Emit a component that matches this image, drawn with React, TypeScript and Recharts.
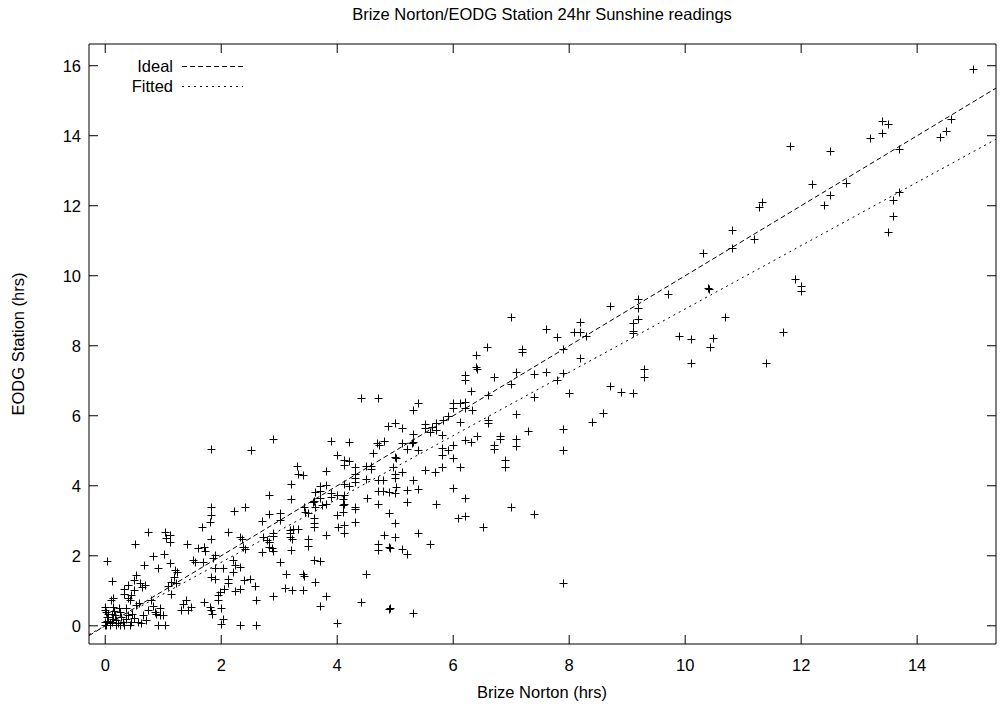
import React from 'react';
import { ComposedChart, Scatter, Line, XAxis, YAxis } from 'recharts';

// [Brize Norton hrs, EODG Station hrs]
const highReadings: [number, number][] = [
  [14.97, 15.91], [13.39, 14.42], [13.49, 14.33], [13.39, 14.08], [13.19, 13.93], [14.58, 14.47],
  [14.49, 14.13], [14.39, 13.96], [13.68, 13.62], [11.8, 13.72], [12.49, 13.56], [12.19, 12.63],
  [12.78, 12.66], [12.49, 12.32], [12.39, 12.01], [11.32, 12.12], [11.28, 11.95], [13.68, 12.38],
  [13.59, 12.15], [13.59, 11.71], [13.49, 11.25], [10.8, 11.31], [11.18, 11.04], [10.8, 10.78],
  [10.31, 10.66], [11.9, 9.9], [11.99, 9.71], [11.99, 9.56], [10.39, 9.66], [10.41, 9.61],
  [10.69, 8.83], [10.48, 8.23], [10.43, 7.96], [11.69, 8.4], [11.39, 7.51], [9.7, 9.47],
  [8.7, 9.14], [9.19, 9.34], [9.19, 9.07], [9.19, 8.77], [9.1, 8.64], [9.1, 8.42], [9.1, 8.36],
  [8.19, 8.67], [8.08, 8.38], [8.19, 8.38], [8.29, 8.28], [7.79, 8.26], [7.89, 7.91], [8.19, 7.64],
  [7.89, 7.22], [7.79, 7.03], [8.0, 6.66], [9.89, 8.29], [10.1, 8.19], [10.1, 7.51], [9.29, 7.35],
  [9.29, 7.12], [8.7, 6.86], [8.89, 6.67], [9.1, 6.65], [8.59, 6.07], [8.39, 5.81], [7.89, 5.61],
  [7.9, 5.03], [7.9, 1.21],
];

const midReadings: [number, number][] = [
  [6.41, 7.35], [6.21, 7.17], [6.21, 7.01], [6.71, 7.1], [7.09, 7.26], [7.4, 7.2], [7.6, 7.25],
  [7.0, 6.91], [6.31, 6.71], [6.6, 6.6], [7.4, 6.55], [5.31, 6.17], [5.4, 6.36], [6.0, 6.36],
  [6.0, 6.22], [6.11, 6.36], [6.21, 6.4], [6.21, 6.22], [6.32, 6.17], [5.91, 5.99], [7.08, 6.05],
  [6.6, 5.88], [6.6, 5.79], [6.11, 5.81], [4.99, 5.79], [5.12, 5.64], [5.52, 5.76], [5.52, 5.64],
  [5.63, 5.69], [5.71, 5.79], [5.71, 5.59], [5.83, 5.88], [5.8, 5.45], [5.6, 5.54], [5.31, 5.48],
  [5.31, 5.26], [5.29, 5.21], [5.12, 5.21], [5.21, 5.04], [5.4, 5.02], [4.99, 4.83], [4.96, 4.54],
  [4.99, 4.35], [4.99, 4.21], [5.12, 4.4], [5.52, 4.45], [5.69, 4.4], [5.8, 4.54], [5.8, 5.07],
  [5.8, 4.88], [5.91, 5.02], [6.0, 5.16], [6.0, 4.78], [6.11, 4.54], [6.21, 5.31], [6.31, 5.26],
  [6.41, 5.42], [6.71, 5.16], [6.71, 5.04], [6.81, 5.42], [6.81, 5.33], [6.89, 4.73], [6.89, 4.54],
  [7.09, 5.35], [7.09, 5.13], [7.29, 5.56], [5.31, 4.16], [5.02, 3.97], [4.99, 3.78], [5.2, 3.87],
  [5.2, 3.54], [5.4, 3.92], [6.0, 3.95], [6.21, 3.66], [5.7, 3.49], [7.0, 3.39], [7.4, 3.19],
  [6.08, 3.07], [6.21, 3.14], [6.51, 2.83], [4.99, 2.93], [5.4, 2.64], [4.99, 2.53], [5.6, 2.33],
  [4.91, 2.21], [5.12, 2.19], [5.21, 2.05], [4.91, 0.5], [5.3, 0.36], [7.0, 8.83], [7.6, 8.47],
  [6.59, 7.97], [6.4, 7.73], [7.19, 7.92], [7.19, 7.83], [6.4, 7.38],
];

const lowReadings: [number, number][] = [
  [4.41, 6.5], [4.7, 6.5], [2.9, 5.33], [2.51, 5.02], [3.9, 5.29], [4.2, 5.26], [4.69, 5.21],
  [4.72, 5.16], [4.8, 5.28], [4.88, 5.71], [4.61, 4.94], [4.0, 4.88], [4.12, 4.73], [4.12, 4.59],
  [4.21, 4.71], [4.31, 4.54], [4.31, 4.35], [4.5, 4.56], [4.59, 4.56], [4.59, 4.49], [5.02, 4.78],
  [3.3, 4.56], [3.33, 4.35], [3.41, 4.3], [3.8, 4.43], [3.21, 4.04], [4.31, 4.21], [4.31, 4.11],
  [4.5, 4.18], [3.7, 3.99], [3.8, 4.02], [3.71, 3.85], [3.62, 3.83], [4.11, 4.04], [4.21, 4.0],
  [4.71, 4.16], [4.79, 4.16], [4.7, 3.85], [4.79, 3.85], [4.9, 3.82], [4.51, 3.66], [2.82, 3.75],
  [3.21, 3.61], [3.9, 3.78], [3.99, 3.73], [3.9, 3.68], [4.11, 3.73], [4.1, 3.63], [3.6, 3.57],
  [3.7, 3.66], [4.11, 3.49], [4.31, 3.39], [4.7, 3.47], [2.41, 3.39], [3.8, 3.47], [3.42, 3.38],
  [3.44, 3.26], [3.5, 3.22], [3.59, 3.54], [3.62, 3.38], [3.73, 3.44], [4.1, 3.44], [4.1, 3.26],
  [4.31, 3.35], [4.0, 3.17], [2.82, 3.19], [3.02, 3.21], [3.01, 3.02], [2.71, 3.0], [3.6, 3.07],
  [3.6, 2.93], [3.6, 2.83], [4.31, 2.97], [4.01, 2.83], [4.11, 2.88], [4.11, 2.64], [3.8, 2.59],
  [3.19, 2.74], [3.19, 2.64], [3.19, 2.54], [3.22, 2.47], [3.24, 2.76], [3.33, 2.76], [2.9, 2.66],
  [2.9, 2.56], [2.72, 2.54], [2.79, 2.45], [2.82, 2.4], [2.82, 2.26], [2.88, 2.21], [2.71, 2.11],
  [2.9, 2.14], [3.2, 2.16], [3.5, 2.47], [3.5, 2.29], [2.35, 2.47], [2.38, 2.26], [2.41, 2.18],
  [4.71, 2.35], [4.71, 2.16], [4.9, 2.24], [4.8, 2.59], [4.9, 3.23], [3.01, 1.83], [3.6, 1.88],
  [3.7, 1.86], [3.12, 1.47], [3.41, 1.47], [3.42, 1.42], [4.5, 1.47], [3.62, 1.25], [2.39, 1.32],
  [2.49, 1.35], [2.58, 1.13], [3.1, 1.09], [3.22, 1.01], [3.41, 1.03], [2.32, 1.06], [3.8, 0.84],
  [3.7, 0.57], [2.9, 0.84], [2.6, 0.74], [4.41, 0.69], [4.9, 0.48], [4.0, 0.09], [2.6, 0.02],
  [2.32, 0.02],
];

const nearOriginReadings: [number, number][] = [
  [1.82, 5.04], [1.82, 3.39], [1.82, 3.17], [1.81, 2.96], [2.22, 3.29], [1.66, 2.81], [2.11, 2.67],
  [2.32, 2.54], [0.73, 2.69], [1.03, 2.69], [1.04, 2.5], [1.11, 2.59], [1.11, 2.4], [0.51, 2.33],
  [1.41, 2.33], [1.6, 2.21], [1.71, 2.24], [1.82, 2.47], [1.72, 2.14], [1.89, 2.02], [1.86, 1.95],
  [1.82, 1.38], [1.01, 2.05], [0.83, 1.99], [0.66, 1.73], [0.91, 1.64], [1.11, 1.78], [1.21, 1.59],
  [1.24, 1.54], [1.19, 1.4], [1.13, 1.25], [1.22, 1.21], [1.08, 1.13], [1.13, 0.92], [0.03, 1.84],
  [0.12, 1.28], [1.51, 1.88], [1.54, 1.83], [1.69, 1.83], [2.2, 1.88], [2.23, 1.73], [2.32, 1.68],
  [2.2, 1.54], [2.12, 1.35], [2.11, 1.21], [2.23, 1.0], [2.05, 1.06], [2.03, 1.64], [1.89, 1.64],
  [1.89, 1.35], [1.98, 0.97], [1.95, 0.87], [1.71, 0.68], [1.81, 0.54], [1.82, 0.44], [1.84, 0.35],
  [1.95, 0.73], [2.0, 0.52], [2.03, 0.2], [2.0, 0.06], [0.91, 0.02], [1.03, 0.02], [1.4, 0.73],
  [1.34, 0.63], [1.48, 0.54], [1.31, 0.44], [1.42, 0.44], [0.79, 0.73], [0.83, 0.56], [0.94, 0.52],
  [0.74, 0.44], [0.86, 0.39], [0.88, 0.35], [0.94, 0.3], [1.0, 0.3], [0.63, 1.11], [0.68, 1.16],
  [0.5, 1.01], [0.45, 0.87], [0.42, 0.73], [0.39, 0.78], [0.33, 0.92], [0.13, 0.78], [0.1, 0.73],
  [0.5, 1.3], [0.53, 1.44], [0.6, 1.21], [0.39, 1.16], [0.32, 1.06], [-0.01, 0.55], [0.02, 0.4],
  [0.05, 0.26], [-0.01, 0.12], [0.08, 0.07], [0.14, 0.55], [0.17, 0.31], [0.19, 0.17], [0.22, 0.07],
  [0.25, 0.4], [0.28, 0.26], [0.3, 0.12], [0.36, 0.5], [0.39, 0.31], [0.45, 0.12], [0.47, 0.35],
  [0.5, 0.21], [0.56, 0.12], [0.62, 0.07], [0.65, 0.31], [0.7, 0.17], [0.02, 0.02], [0.08, 0.02],
  [-0.01, 0.02], [0.03, 0.15], [0.05, 0.35], [0.13, 0.2], [0.11, 0.1], [0.33, 0.02], [0.43, 0.02],
  [0.53, 0.6], [0.58, 0.65], [0.23, 0.5], [0.03, 0.25], [0.15, 0.43], [0.0, 0.45], [0.18, 0.02],
  [0.26, 0.02], [0.12, 0.33], [0.35, 0.2],
];

const xTicks = [0, 2, 4, 6, 8, 10, 12, 14];
const yTicks = [0, 2, 4, 6, 8, 10, 12, 14, 16];
const xDomain: [number, number] = [-0.28, 15.36];
const yDomain: [number, number] = [-0.52, 16.62];

const idealLine = [
  { x: -0.28, y: -0.28 },
  { x: 15.36, y: 15.36 },
];
const fittedLine = [
  { x: -0.28, y: -0.25 },
  { x: 15.36, y: 13.9 },
];

const points = [...highReadings, ...midReadings, ...lowReadings, ...nearOriginReadings].map(([x, y]) => ({ x, y }));

const FONT = '"Liberation Sans", Arial, Helvetica, sans-serif';
const FS = 16.5;
const W = 1001;
const H = 708;

const PlusShape = (props: any) => {
  const { cx, cy } = props;
  if (cx == null || cy == null) return null;
  const x = Math.round(cx) + 0.5;
  const y = Math.round(cy) + 0.5;
  return <path d={`M${x - 4},${y}H${x + 4}M${x},${y - 4}V${y + 4}`} stroke="#000" strokeWidth={1} fill="none" />;
};

const blank = () => '';

export default function App() {
  return (
    <div style={{ position: 'absolute', left: 0, top: 0, width: W, height: H, background: '#fff', fontFamily: FONT }}>
      <ComposedChart width={W} height={H} margin={{ top: 43, right: 4, bottom: 0, left: 0 }}>
        <XAxis
          xAxisId={0}
          type="number"
          dataKey="x"
          domain={xDomain}
          ticks={xTicks}
          allowDataOverflow
          orientation="bottom"
          height={64}
          tickSize={-9}
          tickMargin={24}
          stroke="#000"
          tick={{ fill: '#000', fontSize: FS, fontFamily: FONT }}
          tickLine={{ stroke: '#000' }}
          axisLine={{ stroke: '#000' }}
        />
        <XAxis
          xAxisId="top"
          type="number"
          dataKey="x"
          domain={xDomain}
          ticks={xTicks}
          allowDataOverflow
          orientation="top"
          height={1}
          tickSize={-9}
          tickFormatter={blank}
          stroke="#000"
          tickLine={{ stroke: '#000' }}
          axisLine={{ stroke: '#000' }}
        />
        <YAxis
          yAxisId={0}
          type="number"
          domain={yDomain}
          ticks={yTicks}
          allowDataOverflow
          orientation="left"
          width={89}
          tickSize={-9}
          tickMargin={17}
          stroke="#000"
          tick={{ fill: '#000', fontSize: FS, fontFamily: FONT }}
          tickLine={{ stroke: '#000' }}
          axisLine={{ stroke: '#000' }}
        />
        <YAxis
          yAxisId="right"
          type="number"
          domain={yDomain}
          ticks={yTicks}
          allowDataOverflow
          orientation="right"
          width={1}
          tickSize={-9}
          tickFormatter={blank}
          stroke="#000"
          tickLine={{ stroke: '#000' }}
          axisLine={{ stroke: '#000' }}
        />
        <Line
          data={idealLine}
          dataKey="y"
          type="linear"
          stroke="#000"
          strokeWidth={1}
          strokeDasharray="5 3"
          dot={false}
          activeDot={false}
          isAnimationActive={false}
        />
        <Line
          data={fittedLine}
          dataKey="y"
          type="linear"
          stroke="#000"
          strokeWidth={1}
          strokeDasharray="2 4"
          dot={false}
          activeDot={false}
          isAnimationActive={false}
        />
        <Scatter data={points} dataKey="y" shape={PlusShape} isAnimationActive={false} />
      </ComposedChart>
      <svg
        width={W}
        height={H}
        style={{ position: 'absolute', left: 0, top: 0, pointerEvents: 'none' }}
        fontFamily={FONT}
      >
        <text x={542} y={20} textAnchor="middle" fontSize={FS} fill="#000">
          Brize Norton/EODG Station 24hr Sunshine readings
        </text>
        <text x={542} y={698} textAnchor="middle" fontSize={FS} fill="#000">
          Brize Norton (hrs)
        </text>
        <text x={24} y={344} textAnchor="middle" fontSize={FS} fill="#000" transform="rotate(-90 24 344)">
          EODG Station (hrs)
        </text>
        <text x={173} y={72} textAnchor="end" fontSize={FS} fill="#000">Ideal</text>
        <line x1={182} x2={243} y1={66.5} y2={66.5} stroke="#000" strokeWidth={1} strokeDasharray="5 3" />
        <text x={173} y={92} textAnchor="end" fontSize={FS} fill="#000">Fitted</text>
        <line x1={182} x2={243} y1={86.5} y2={86.5} stroke="#000" strokeWidth={1} strokeDasharray="2 4" />
      </svg>
    </div>
  );
}
